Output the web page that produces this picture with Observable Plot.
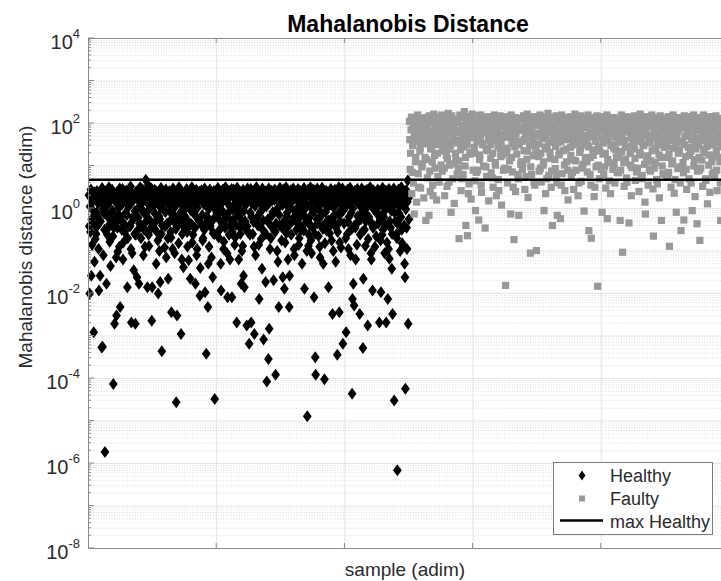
<!DOCTYPE html>
<html>
<head>
<meta charset="utf-8">
<script src="https://cdn.jsdelivr.net/npm/d3@7"></script>
<script src="https://cdn.jsdelivr.net/npm/@observablehq/plot@0.6"></script>
<style>
  html, body { margin: 0; padding: 0; background: #fff; }
  #chart { width: 721px; height: 581px; overflow: hidden; }
  #chart svg { display: block; }
</style>
</head>
<body>
<div id="chart"></div>
<script>
// log10 of the Mahalanobis distance of every healthy sample, in sample order
const healthyLog10 = [
  0.31,-0.42,-2.0,0.05,-0.55,0.45,-1.58,-0.25,-0.85,0.2,-0.05,0.18,-2.91,0.38,-1.25,-0.4,-0.72,0.27,-0.6,-0.1,0.41,-0.18,-0.4,0.12,-0.95,-1.93,0.33,-0.32,-1.58,-0.3,0.15,0.25,-3.27,0.48,-3.25,-0.02,-1.1,0.22,-0.12,-0.5,
  -5.73,0.25,0.4,-0.12,-1.77,-0.5,-0.62,0.08,0.36,-0.22,0.5,-0.38,-0.78,0.18,-1.35,0.22,0.3,-0.08,0.44,-0.05,-0.65,-4.13,-0.45,-0.28,-2.71,0.28,-0.35,0.15,-1.15,-2.52,0.39,-0.45,-1.02,-0.15,0.22,0.02,-0.9,0.47,-2.32,-0.2,
  0.35,-0.28,-0.5,0.1,0.46,-1.2,-0.8,-0.35,0.3,-0.55,0.21,0.2,-0.1,0.42,0.16,-0.15,-1.85,-0.7,0.37,0.04,-0.42,0.26,-0.4,-0.42,0.52,-0.95,-2.68,0.14,-1.05,0.34,-0.2,-0.25,-1.45,0.29,-0.6,-0.06,-2.71,-0.62,0.4,0.24,
  -1.62,0.24,0.4,-0.22,-0.48,-1.77,-0.35,0.06,0.5,0.19,-0.7,-0.4,0.33,-0.05,0.45,0.16,-1.1,0.28,-0.5,-0.1,-0.9,0.38,0.677,-0.3,-0.18,0.3,-1.85,0.12,0.55,-0.62,-0.88,-0.02,0.36,0.2,-0.3,-0.45,0.47,-2.64,-1.85,0.22,
  0.32,-0.45,0.18,0.08,0.44,-0.12,0.27,-0.3,-1.3,0.4,-0.55,0.14,-0.75,-2.0,0.35,-0.18,-1.0,-0.25,-1.73,0.02,0.48,-0.6,-3.36,-0.4,0.22,0.39,-0.02,0.2,0.3,-0.92,-0.42,-0.08,0.45,-1.15,-0.38,-0.35,0.25,-0.7,-1.65,0.1,
  0.29,0.41,-0.3,-0.08,-0.55,-0.68,-2.44,0.15,0.36,-0.95,0.47,-0.28,-0.15,0.23,-1.05,0.04,0.4,-0.48,-4.56,-0.42,-2.52,0.31,-0.38,0.2,-0.82,0.5,-0.22,-0.12,0.27,0.43,-2.95,0.1,-1.2,-0.6,0.34,-0.32,-1.38,0.19,-0.45,-0.02,
  0.38,-0.2,0.25,0.06,0.46,-0.55,-0.9,-0.32,0.33,-1.22,-0.42,0.16,0.42,-1.65,-0.35,-0.05,0.21,0.5,-0.8,-0.4,-0.62,0.37,-0.1,0.12,0.28,-0.45,-1.77,-0.18,0.44,-1.1,-0.95,0.02,0.31,0.19,-0.27,-0.28,0.4,-2.05,-1.4,0.22,
  0.26,0.43,-0.4,-0.15,-0.75,-0.7,0.35,0.1,-0.5,0.47,-1.97,-0.35,0.2,-3.42,-0.18,0.18,0.39,-2.32,-1.3,-0.02,-0.9,0.3,0.45,-0.42,-0.3,0.24,-1.15,0.08,0.36,-1.62,-0.58,-0.25,0.41,-0.6,-4.48,0.14,0.17,0.33,-0.05,-0.1,
  0.34,-0.15,0.48,0.04,-0.68,-0.52,0.27,-0.28,0.4,-1.3,-1.93,0.12,0.2,-0.35,0.44,-0.08,-0.95,-0.78,0.31,-0.38,-0.45,0.5,-0.2,0.18,0.37,-1.05,-2.09,-0.12,0.23,0.42,-0.62,0.06,-1.2,0.29,-0.42,-0.3,0.46,-2.09,-0.55,-0.02,
  0.3,0.45,-0.25,0.1,-0.85,-0.68,0.38,-0.38,0.2,-2.68,0.49,0.02,-0.1,0.26,-1.2,-0.18,0.41,-0.45,-0.6,0.15,-1.77,0.33,-1.0,-0.3,-0.88,0.44,-1.58,-0.05,-1.85,0.24,-0.3,0.08,0.36,-0.5,-2.75,-0.42,0.47,-0.55,0.21,0.18,
  -3.18,0.35,-0.62,-0.1,0.46,-2.68,-0.2,0.12,0.29,-0.6,0.41,-0.32,-0.9,-2.95,0.32,0.06,-1.1,0.18,0.5,-0.22,-0.38,0.23,0.43,-0.4,-0.85,-2.13,0.27,0.16,-0.08,0.39,-0.72,-0.04,-1.42,0.47,-0.5,-0.28,-3.08,0.22,0.34,0.08,
  0.4,-1.73,-0.6,0.05,-4.07,0.33,-0.3,-0.25,-3.54,0.47,-2.83,0.14,-0.95,0.28,-0.7,-0.42,0.42,0.19,-0.15,-0.08,0.36,-1.69,-0.5,0.2,0.45,-0.55,-3.91,-0.35,0.25,0.38,-1.0,0.0,-1.25,0.31,-2.32,-0.15,-0.4,0.49,0.2,0.1,
  0.37,-0.75,-0.45,0.08,-1.62,0.44,0.22,-0.3,-1.89,0.3,-0.8,0.12,0.5,-0.58,-0.18,-0.1,0.39,-1.2,-0.42,-0.38,-2.32,-1.58,0.27,0.02,0.43,-0.62,0.18,0.16,0.34,-0.28,0.47,-0.22,-0.95,-1.1,0.4,-0.05,-0.08,0.26,-0.5,0.2,
  0.32,-0.35,0.46,0.04,-0.85,-0.7,0.28,-0.2,0.41,-0.12,-0.5,0.15,-1.3,0.37,0.2,-0.4,-0.52,0.48,-1.89,-0.02,0.25,-0.22,0.35,0.1,-1.0,-4.89,0.43,-0.3,-0.88,-0.62,0.3,0.06,-0.4,0.5,-0.75,-0.15,-1.05,0.38,0.23,-0.45,
  0.29,0.44,-2.09,-0.05,-0.6,-3.5,-3.91,0.12,0.36,-0.25,0.47,-0.35,0.2,-0.65,0.31,0.06,-0.9,-1.15,0.4,-0.18,-0.1,0.24,0.49,-0.42,-0.48,-1.3,0.35,0.16,-4.02,-0.82,0.27,-0.08,0.42,-0.52,-0.3,0.02,0.38,0.19,-1.85,-0.28,
  0.33,-0.58,-0.4,0.1,0.46,0.25,-0.75,-0.22,-2.48,0.39,-1.0,0.02,0.28,-0.18,0.44,-0.38,-1.25,-0.45,0.36,0.14,-3.44,-0.55,0.22,-0.12,0.5,-2.44,-0.8,-0.3,0.41,-0.92,0.3,0.06,-0.08,0.47,-3.18,-0.04,0.19,-0.35,0.34,0.2,
  0.4,-0.7,-2.91,0.06,0.31,-0.6,0.45,-0.32,-0.95,-0.2,0.27,0.14,0.49,-1.1,0.36,-0.1,-0.48,-4.36,-2.13,0.0,-1.77,0.22,-2.28,-0.4,0.42,-0.45,-1.2,0.18,0.33,-0.85,0.46,-0.18,0.18,-0.3,0.38,0.08,-2.48,-0.62,0.29,-0.25,
  0.35,0.47,-0.55,-0.08,-3.28,-1.65,0.26,0.12,-0.5,0.41,-0.88,-0.3,-0.15,0.3,0.44,0.04,-2.75,-0.72,0.2,-0.2,0.38,-0.28,0.5,0.16,-1.05,-1.2,0.33,-0.38,-1.93,-0.45,0.43,-0.02,-0.42,0.24,-0.9,0.1,0.37,-0.65,0.28,-0.12,
  0.31,0.45,-0.35,0.05,0.18,-2.68,0.4,-0.25,-0.75,-1.97,0.28,0.12,-0.62,0.49,-0.5,-0.1,-0.2,0.36,-1.05,-0.38,0.22,0.42,-2.68,0.02,-0.8,0.3,-2.13,0.18,-0.95,0.46,-1.18,-0.3,0.25,-0.45,0.39,-0.05,-1.42,-0.6,-2.48,0.08,
  0.34,0.47,-4.52,-0.1,0.2,-0.3,0.41,0.14,-0.6,-0.7,-6.16,-0.35,0.28,0.45,-0.12,0.04,0.36,-1.0,0.22,-0.2,0.5,-0.5,-0.82,0.1,0.38,-0.88,0.3,-0.4,-1.3,-1.62,-4.24,-0.02,0.43,-0.45,-0.95,0.16,0.66,-2.71,0.25,-0.25
];

// log10 of the Mahalanobis distance of every faulty sample, in sample order
const faultyLog10 = [
  2.05,1.62,0.92,1.3,1.85,2.15,0.35,0.85,1.48,1.97,0.6,1.65,-0.13,1.75,2.1,1.1,1.2,1.58,0.15,1.88,1.9,2.2,0.82,0.5,1.68,2.0,1.35,1.42,0.48,1.8,2.12,0.98,1.05,1.55,1.92,1.76,0.25,1.7,2.08,1.2,
  1.88,-0.28,2.14,1.15,1.52,0.72,1.98,1.7,1.66,-0.16,2.18,0.88,0.4,1.4,1.82,1.45,2.02,1.1,0.55,0.3,1.6,2.22,1.74,1.25,0.95,1.9,2.06,1.84,0.2,1.5,1.3,0.75,2.16,1.78,0.62,1.55,1.95,1.58,2.1,1.02,
  1.7,2.2,0.88,1.35,1.5,2.0,1.86,0.95,0.3,1.62,2.12,1.72,1.25,1.94,0.52,1.18,1.78,2.24,1.4,0.62,1.02,2.06,1.56,1.48,-0.09,1.9,2.18,1.9,0.7,1.68,1.98,1.05,0.12,1.8,2.1,1.3,1.15,1.6,2.02,0.8,
  2.08,1.54,0.95,1.12,-0.71,1.84,2.2,1.78,1.38,0.42,1.96,0.7,1.7,2.14,0.8,1.45,1.6,2.28,1.88,1.0,1.2,-0.4,2.02,1.62,1.5,-0.64,1.76,0.35,2.16,0.58,1.92,1.28,1.32,2.05,0.22,1.86,1.66,2.22,1.82,0.9,
  1.72,2.1,1.44,1.3,0.65,-0.05,1.98,0.85,2.18,1.58,0.9,1.7,1.84,-0.27,2.04,1.15,1.26,1.66,2.2,0.55,0.38,1.9,1.52,1.5,2.12,1.0,1.78,1.92,1.96,-0.46,2.08,0.98,1.4,0.75,1.86,1.36,2.16,1.62,0.18,1.8,
  1.94,2.14,1.5,1.18,0.84,1.76,2.06,0.72,1.3,0.5,1.88,1.6,2.2,1.64,1.08,1.02,2.0,0.3,1.82,1.84,2.12,1.46,0.68,0.42,1.7,1.98,2.18,1.4,1.22,1.56,0.08,1.25,1.92,2.04,1.36,0.9,1.74,2.1,0.95,1.68,
  -1.81,1.86,2.16,1.3,1.42,0.6,1.96,0.92,1.68,2.08,1.12,1.72,1.8,-0.13,2.2,1.2,1.54,0.86,1.9,0.5,2.02,-0.73,1.62,1.45,2.14,0.4,1.76,1.88,1.28,2.06,1.94,0.8,0.7,-0.16,1.5,1.58,2.12,1.84,1.04,1.1,
  2.1,1.58,0.92,1.05,1.9,2.18,1.36,1.62,0.45,1.8,2.04,0.75,1.66,1.16,2.22,1.35,0.26,1.72,1.98,1.82,1.48,2.14,-1.05,0.98,1.86,0.8,2.08,1.5,1.6,1.24,1.94,0.62,2.16,0.55,1.7,1.28,1.44,-0.99,2.0,1.76,
  1.76,2.12,1.52,1.22,0.88,1.96,2.2,0.95,1.3,0.62,1.84,1.68,2.06,1.64,1.02,1.1,-0.05,1.9,2.16,1.45,0.35,1.72,2.0,0.7,1.4,1.88,2.24,1.85,0.78,1.56,2.1,1.32,1.18,1.8,0.5,0.88,1.98,-0.4,2.14,1.6,
  1.68,2.04,1.9,1.15,0.94,1.46,2.18,0.78,0.6,-0.16,1.82,1.55,2.1,1.26,1.74,1.3,2.0,-0.24,1.58,0.55,2.2,0.82,1.92,1.72,1.36,2.08,1.7,1.02,0.42,1.86,2.14,1.4,1.1,1.62,1.96,0.9,0.2,1.78,2.12,1.65,
  1.88,2.16,1.44,1.25,0.74,1.98,2.06,0.85,1.6,1.14,0.45,1.62,1.8,2.22,1.5,1.12,0.9,1.94,2.1,1.78,1.68,0.3,1.84,0.6,2.02,1.32,1.76,1.4,2.18,0.64,1.56,0.95,2.0,1.04,1.9,1.52,-0.06,2.12,1.72,1.2,
  1.64,2.1,1.92,1.1,0.86,1.5,2.2,1.45,-0.52,1.78,2.04,0.8,1.2,0.55,-0.7,1.68,1.96,2.14,1.38,1.25,1.7,0.28,1.86,0.5,2.08,1.58,0.98,1.82,2.18,1.8,-1.83,1.02,1.46,2.0,0.7,1.35,1.9,2.12,1.66,0.92,
  1.94,-0.09,2.16,1.28,1.54,0.8,1.84,0.98,2.06,1.3,0.48,1.7,1.72,2.2,-0.24,1.15,1.62,1.98,1.08,0.65,2.1,1.88,0.35,1.48,1.5,2.02,1.76,1.86,0.92,2.14,1.42,1.05,1.9,0.6,1.68,1.38,2.08,1.2,1.82,0.85,
  2.12,1.56,0.84,1.22,1.92,2.04,-0.28,0.9,1.7,2.2,1.34,1.74,-1.03,1.86,2.1,1.08,0.52,1.6,1.98,1.46,1.16,2.16,0.72,0.62,1.8,2.06,1.44,1.84,-0.34,1.9,2.14,1.3,1.02,1.66,0.3,0.96,1.96,2.08,1.52,1.58,
  1.78,2.18,1.4,1.18,0.66,1.9,2.06,0.86,1.58,0.95,2.12,1.66,1.72,0.4,1.86,1.32,2.22,1.26,1.64,0.7,2.0,0.78,1.92,1.5,2.1,1.48,1.82,1.04,0.15,-0.13,2.16,1.8,1.1,1.7,2.04,1.24,0.55,1.96,1.6,0.92,
  2.08,1.54,0.88,1.12,1.94,2.2,1.36,1.7,0.46,-0.65,1.8,0.95,2.02,1.66,1.08,1.4,2.14,0.68,1.88,0.58,1.5,2.1,1.74,1.26,0.25,1.98,2.18,1.86,1.2,-0.28,1.62,1.0,1.9,0.82,2.06,1.55,1.44,1.84,2.12,0.8,
  1.7,2.04,1.46,1.2,0.74,1.92,2.16,0.85,1.28,-0.89,1.82,1.64,2.1,0.5,1.6,1.05,1.96,1.12,2.2,1.42,1.76,0.36,1.88,0.68,2.06,1.52,-0.09,1.8,1.68,2.14,0.94,1.3,1.84,2.0,1.38,0.98,0.6,1.94,-0.52,1.56,
  2.12,1.58,1.9,1.08,0.84,-0.27,2.18,1.5,1.7,1.22,2.02,0.92,0.45,1.86,2.1,1.72,1.44,1.76,0.7,1.25,2.16,1.96,1.34,0.6,1.62,2.06,-0.05,1.84,1.8,2.2,1.0,1.15,1.52,0.28,1.92,1.4,2.08,1.66,-0.36,0.88,
  1.84,2.14,1.48,1.2,0.9,-0.75,1.96,0.95,2.06,1.6,1.14,1.68,0.52,1.78,2.2,1.32,1.4,1.9,2.02,0.7,0.66,1.7,2.12,1.46,0.11,1.56,1.88,1.02,1.26,2.16,0.38,1.8,1.98,1.64,2.08,1.1,0.8,1.82,1.5,0.85,
  2.1,1.62,0.78,1.25,1.92,2.18,1.36,0.9,0.42,1.8,2.04,1.7,1.54,1.2,1.96,1.1,0.6,-0.28,2.12,1.45
];

// axis settings
const yExponents = [-8, -6, -4, -2, 0, 2, 4];   // labelled decades
const sampleTicks = [320, 640, 960, 1280];    // unlabelled sample ticks
const sampleEnd = 1580;

// legend entries
const legendLabels = ["Healthy", "Faulty", "max Healthy"];

const titleText = "Mahalanobis Distance";
const xLabelText = "sample (adim)";
const yLabelText = "Mahalanobis distance (adim)";

// rows for the marks
const healthy = healthyLog10.map((v, i) => ({sample: i + 1, distance: 10 ** v}));
const faulty = faultyLog10.map((v, i) => ({sample: healthy.length + i + 1, distance: 10 ** v}));
const maxHealthy = d3.max(healthy, d => d.distance);

const decades = yExponents.map(e => 10 ** e);
const allDecades = d3.range(-8, 5).map(e => 10 ** e);
const minorTicks = d3.range(-8, 4).flatMap(e => d3.range(2, 10).map(m => m * 10 ** e));

// MATLAB-like marker shapes
const rhombus = {
  draw(ctx, size) {
    const r = Math.sqrt(size / Math.PI);
    const w = r * 0.73;
    ctx.moveTo(0, -r); ctx.lineTo(w, 0); ctx.lineTo(0, r); ctx.lineTo(-w, 0); ctx.closePath();
  }
};
const squareMark = {
  draw(ctx, size) {
    const r = Math.sqrt(size / Math.PI);
    ctx.rect(-r, -r, 2 * r, 2 * r);
  }
};

const axisColor = "#8a8a8a";
const textColor = "#2b2b2b";
const font = "'Liberation Sans', Arial, Helvetica, sans-serif";

const chart = Plot.plot({
  width: 721,
  height: 581,
  marginTop: 38,
  marginBottom: 33,
  marginLeft: 88,
  marginRight: 0,
  style: {fontFamily: font, background: "#fff", overflow: "visible"},
  x: {domain: [0, sampleEnd], axis: null},
  y: {type: "log", domain: [1e-8, 1e4], axis: null},
  marks: [
    Plot.ruleY(minorTicks, {stroke: "#d4d4d4", strokeWidth: 0.8, strokeDasharray: "1,1.6"}),
    Plot.ruleY(allDecades, {stroke: "#e4e4e4", strokeWidth: 1}),
    Plot.ruleX(sampleTicks, {stroke: "#e4e4e4", strokeWidth: 1}),
    Plot.dot(healthy, {x: "sample", y: "distance", symbol: rhombus, r: 6, fill: "#000", stroke: "none"}),
    Plot.dot(faulty, {x: "sample", y: "distance", symbol: squareMark, r: 3.6, fill: "#999999", stroke: "none"}),
    Plot.ruleY([maxHealthy], {stroke: "#000", strokeWidth: 2.6}),
    Plot.ruleX([0], {stroke: axisColor, strokeWidth: 1}),
    Plot.ruleY([1e4], {stroke: axisColor, strokeWidth: 1}),
    Plot.ruleY([1e-8], {stroke: axisColor, strokeWidth: 1})
  ]
});

document.getElementById("chart").appendChild(chart);

const svg = d3.select(chart);
const xs = chart.scale("x");
const ys = chart.scale("y");
const frameLeft = xs.apply(0);
const frameTop = ys.apply(1e4);
const frameBottom = ys.apply(1e-8);

// inward tick marks
const tickGroup = svg.append("g").attr("stroke", axisColor).attr("stroke-width", 1);
for (const t of sampleTicks) {
  const x = xs.apply(t);
  tickGroup.append("line").attr("x1", x).attr("x2", x).attr("y1", frameBottom).attr("y2", frameBottom - 5);
  tickGroup.append("line").attr("x1", x).attr("x2", x).attr("y1", frameTop).attr("y2", frameTop + 5);
}
for (const d of allDecades) {
  const y = ys.apply(d);
  tickGroup.append("line").attr("x1", frameLeft).attr("x2", frameLeft + 6).attr("y1", y).attr("y2", y);
}
for (const d of minorTicks) {
  const y = ys.apply(d);
  tickGroup.append("line").attr("x1", frameLeft).attr("x2", frameLeft + 3).attr("y1", y).attr("y2", y);
}

// y tick labels as powers of ten
const yLabels = svg.append("g").attr("font-family", font).attr("fill", textColor).attr("text-anchor", "end");
yExponents.forEach((e, i) => {
  const y = ys.apply(decades[i]);
  const t = yLabels.append("text").attr("x", frameLeft - 8).attr("y", y + 10.5).attr("font-size", 20);
  t.append("tspan").text("10");
  t.append("tspan").attr("font-size", 13).attr("dy", -11).text(String(e));
});

// title and axis labels
svg.append("text")
  .attr("x", 408).attr("y", 32)
  .attr("text-anchor", "middle").attr("font-family", font)
  .attr("font-size", 23).attr("font-weight", "bold").attr("fill", "#000")
  .text(titleText);

svg.append("text")
  .attr("x", 405).attr("y", 576)
  .attr("text-anchor", "middle").attr("font-family", font)
  .attr("font-size", 19).attr("fill", textColor)
  .text(xLabelText);

svg.append("text")
  .attr("transform", "translate(32,247) rotate(-90)")
  .attr("text-anchor", "middle").attr("font-family", font)
  .attr("font-size", 19).attr("fill", textColor)
  .text(yLabelText);

// legend
const lg = svg.append("g").attr("font-family", font).attr("font-size", 18)
  .attr("fill", textColor).attr("text-anchor", "start");
lg.append("rect").attr("x", 553.5).attr("y", 462.5).attr("width", 159).attr("height", 72)
  .attr("fill", "#fff").attr("stroke", "#7a7a7a").attr("stroke-width", 1);
lg.append("path").attr("d", "M582,470.5 L585.4,475.5 L582,480.5 L578.6,475.5 Z").attr("fill", "#000");
lg.append("rect").attr("x", 579).attr("y", 495.5).attr("width", 6).attr("height", 6).attr("fill", "#999999");
lg.append("line").attr("x1", 560).attr("x2", 603).attr("y1", 520.5).attr("y2", 520.5)
  .attr("stroke", "#000").attr("stroke-width", 2.6);
[481.5, 504.5, 527.5].forEach((y, i) => {
  lg.append("text").attr("x", 610).attr("y", y).text(legendLabels[i]);
});
</script>
</body>
</html>
